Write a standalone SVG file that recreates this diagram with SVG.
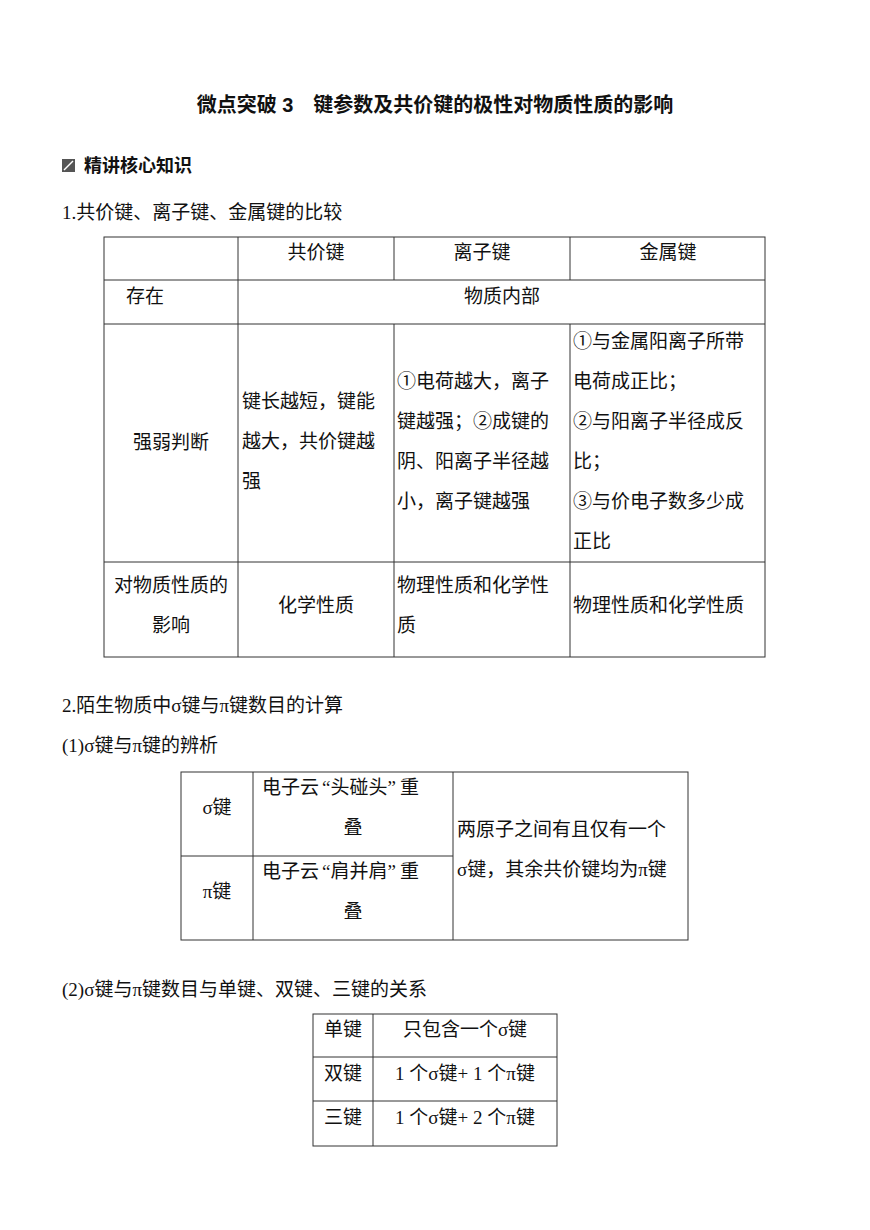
<svg xmlns="http://www.w3.org/2000/svg" width="870" height="1230" viewBox="0 0 870 1230">
<style>
text{font-family:"Liberation Serif","Noto Sans CJK SC",serif;font-size:19px;fill:#111}
.c{text-anchor:middle}
.b{font-family:"Liberation Sans","Noto Sans CJK SC",sans-serif;font-weight:bold}
line,rect.t{stroke:#333;stroke-width:1;fill:none}
</style>
<rect width="870" height="1230" fill="#fff"/>
<text class="c b" x="435" y="112" style="font-size:20px">微点突破 3　键参数及共价键的极性对物质性质的影响</text>
<rect x="62" y="159" width="13" height="13" fill="#555"/>
<line x1="64" y1="170" x2="73" y2="161" style="stroke:#fff;stroke-width:1.5"/>
<text class="b" x="84" y="172" style="font-size:18px">精讲核心知识</text>
<text x="62" y="219">1.共价键、离子键、金属键的比较</text>
<g id="table1">
<rect class="t" x="104" y="237" width="661" height="420"/>
<line x1="104" y1="280" x2="765" y2="280"/><line x1="104" y1="324" x2="765" y2="324"/><line x1="104" y1="562" x2="765" y2="562"/>
<line x1="238" y1="237" x2="238" y2="657"/><line x1="394" y1="237" x2="394" y2="280"/><line x1="570" y1="237" x2="570" y2="280"/>
<line x1="394" y1="324" x2="394" y2="657"/><line x1="570" y1="324" x2="570" y2="657"/>
<text class="c" x="316" y="259">共价键</text><text class="c" x="482" y="259">离子键</text><text class="c" x="668" y="259">金属键</text>
<text x="126" y="303">存在</text><text class="c" x="502" y="303">物质内部</text>
<text class="c" x="171" y="449">强弱判断</text>
<text x="242" y="408">键长越短，键能</text><text x="242" y="448">越大，共价键越</text><text x="242" y="488">强</text>
<text x="397" y="388">①电荷越大，离子</text><text x="397" y="428">键越强；②成键的</text><text x="397" y="468">阴、阳离子半径越</text><text x="397" y="508">小，离子键越强</text>
<text x="573" y="348">①与金属阳离子所带</text><text x="573" y="388">电荷成正比；</text><text x="573" y="428">②与阳离子半径成反</text><text x="573" y="468">比；</text><text x="573" y="508">③与价电子数多少成</text><text x="573" y="548">正比</text>
<text class="c" x="171" y="592">对物质性质的</text><text class="c" x="171" y="632">影响</text>
<text class="c" x="316" y="612">化学性质</text>
<text x="397" y="592">物理性质和化学性</text><text x="397" y="632">质</text>
<text x="573" y="612">物理性质和化学性质</text>
</g>
<text x="62" y="712">2.陌生物质中σ键与π键数目的计算</text>
<text x="62" y="752">(1)σ键与π键的辨析</text>
<g id="table2">
<rect class="t" x="181" y="772" width="507" height="168"/>
<line x1="181" y1="856" x2="453" y2="856"/><line x1="253" y1="772" x2="253" y2="940"/><line x1="453" y1="772" x2="453" y2="940"/>
<text class="c" x="217" y="814">σ键</text><text class="c" x="217" y="898">π键</text>
<text x="262" y="794">电子云<tspan dx="3">“</tspan>头碰头<tspan>”</tspan><tspan dx="4">重</tspan></text><text class="c" x="353" y="834">叠</text>
<text x="262" y="878">电子云<tspan dx="3">“</tspan>肩并肩<tspan>”</tspan><tspan dx="4">重</tspan></text><text class="c" x="353" y="918">叠</text>
<text x="457" y="836">两原子之间有且仅有一个</text><text x="457" y="876">σ键，其余共价键均为π键</text>
</g>
<text x="62" y="996">(2)σ键与π键数目与单键、双键、三键的关系</text>
<g id="table3">
<rect class="t" x="313" y="1014" width="244" height="132"/>
<line x1="313" y1="1057" x2="557" y2="1057"/><line x1="313" y1="1101" x2="557" y2="1101"/><line x1="373" y1="1014" x2="373" y2="1146"/>
<text class="c" x="343" y="1036">单键</text><text class="c" x="343" y="1080">双键</text><text class="c" x="343" y="1124">三键</text>
<text class="c" x="465" y="1036">只包含一个σ键</text><text class="c" x="465" y="1080">1 个σ键+ 1 个π键</text><text class="c" x="465" y="1124">1 个σ键+ 2 个π键</text>
</g>
</svg>
